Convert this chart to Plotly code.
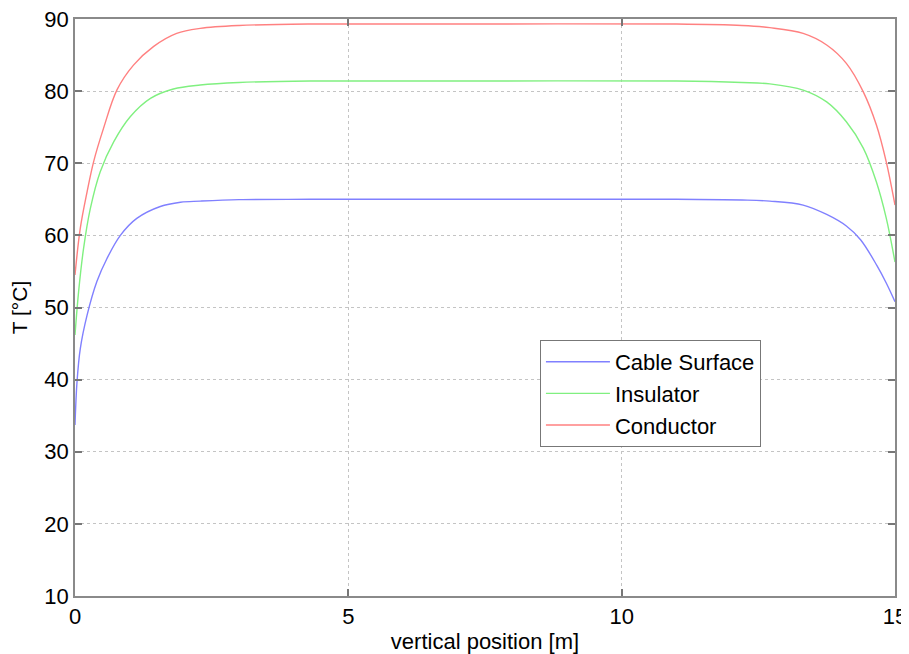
import plotly.graph_objects as go

# Cable Surface
x_surface = [0.0, 0.037, 0.097, 0.22, 0.40, 0.585, 0.83, 1.13, 1.56, 1.93, 2.29, 3.0, 4.3, 7.5, 11.0, 12.2, 12.71, 13.32, 13.75, 14.11, 14.37, 14.67, 14.84, 15.0]
t_surface = [33.7, 39.7, 44.3, 48.9, 53.6, 56.8, 60.0, 62.35, 64.0, 64.6, 64.75, 64.95, 65.0, 65.0, 65.0, 64.9, 64.75, 64.2, 62.9, 61.3, 59.4, 55.8, 53.4, 50.8]

# Insulator
x_insul = [0.0, 0.066, 0.157, 0.28, 0.46, 0.71, 1.01, 1.38, 1.80, 2.29, 3.0, 4.3, 7.5, 11.0, 12.2, 12.71, 13.32, 13.75, 14.11, 14.42, 14.66, 14.84, 15.0]
t_insul = [46.2, 52.2, 58.2, 63.7, 68.8, 73.0, 76.45, 79.0, 80.3, 80.85, 81.2, 81.4, 81.4, 81.4, 81.2, 81.0, 80.15, 78.5, 75.75, 72.1, 67.4, 62.4, 56.3]

# Conductor
x_cond = [0.0, 0.097, 0.22, 0.34, 0.52, 0.77, 1.07, 1.44, 1.86, 2.29, 3.0, 4.3, 7.5, 11.0, 12.2, 12.71, 13.32, 13.75, 14.11, 14.42, 14.66, 14.84, 15.0]
t_cond = [54.5, 61.0, 66.0, 70.2, 74.8, 80.2, 83.6, 86.2, 88.0, 88.7, 89.1, 89.3, 89.3, 89.3, 89.1, 88.8, 88.0, 86.4, 83.85, 79.9, 75.3, 70.2, 64.2]

series_names = ["Cable Surface", "Insulator", "Conductor"]
series_colors = ["#8080ff", "#80f080", "#ff8080"]

x_ticks = [0, 5, 10, 15]
y_ticks = [10, 20, 30, 40, 50, 60, 70, 80, 90]

FONT = "Liberation Sans, Arial"

fig = go.Figure()
for name, xs, ys, c in zip(series_names, [x_surface, x_insul, x_cond], [t_surface, t_insul, t_cond], series_colors):
    fig.add_trace(go.Scatter(x=xs, y=ys, mode="lines", name=name,
                             line=dict(color=c, width=1.4, shape="spline", smoothing=1.0)))

axis_common = dict(
    showline=True, linecolor="#8a8a8a", linewidth=1.5, mirror="ticks",
    ticks="inside", ticklen=7, tickcolor="#777777", tickwidth=1.5,
    showgrid=True, gridcolor="#c4c4c4", griddash="dot", gridwidth=1,
    zeroline=False, automargin=False, ticklabeloverflow="allow",
    tickfont=dict(family=FONT, size=22, color="#000000"),
)

# page body has an 8px margin; the figure is placed so the plot lands where the reference has it
fig.update_layout(
    width=901, height=646,
    margin=dict(l=67, r=14, t=11, b=58),
    paper_bgcolor="white", plot_bgcolor="white",
    font=dict(family=FONT, size=22, color="#000000"),
    xaxis=dict(range=[0, 15], tickvals=x_ticks,
               title=dict(text="vertical position [m]", font=dict(size=22)),
               **axis_common),
    yaxis=dict(range=[10, 90], tickvals=y_ticks,
               title=dict(text="T [°C]", font=dict(size=21)),
               **axis_common),
    legend=dict(x=0.567, y=0.4437, xanchor="left", yanchor="top",
                bgcolor="white", bordercolor="#777777", borderwidth=1,
                font=dict(family=FONT, size=22),
                itemwidth=64, tracegroupgap=0),
    showlegend=True,
)

fig.write_html("out.html")
